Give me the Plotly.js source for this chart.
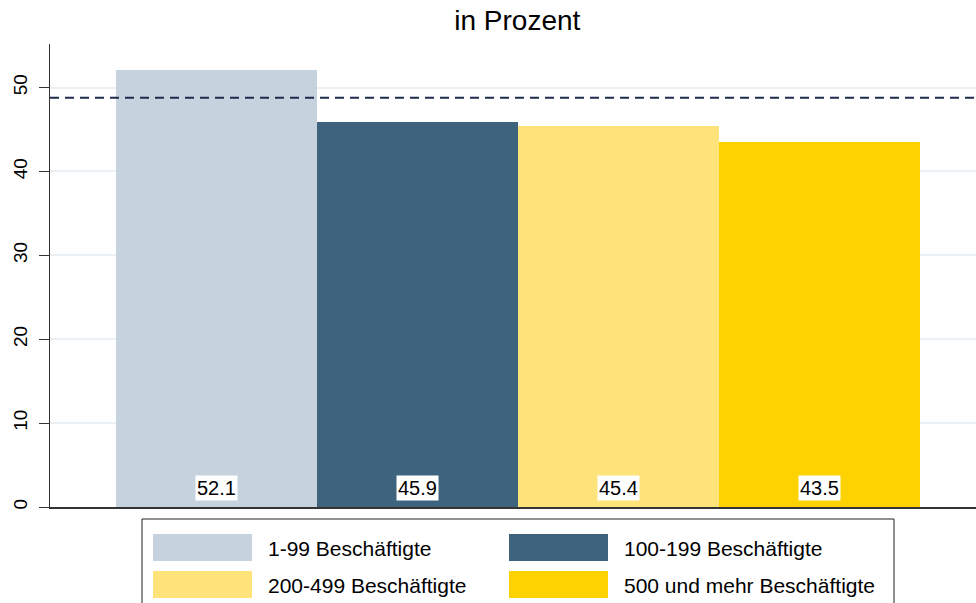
<!DOCTYPE html>
<html><head><meta charset="utf-8">
<script src="https://cdn.plot.ly/plotly-3.0.1.min.js"></script>
<style>html,body{margin:0;padding:0;background:#fff}#chart{width:976px;height:603px}</style>
</head><body><div id="chart"></div>
<script>
const categories = ["1-99 Beschäftigte", "100-199 Beschäftigte", "200-499 Beschäftigte", "500 und mehr Beschäftigte"];
const values = [52.1, 45.9, 45.4, 43.5];
const colors = ["#c6d3de", "#3e647d", "#fee27a", "#fed100"];
const referenceValue = 48.8;
const yTicks = [0, 10, 20, 30, 40, 50];

const L = 50, R = 976, T = 44, B = 507;
const px = x => (x - L) / (R - L);
const py = y => (B - y) / (B - T);
const FONT = 'Liberation Sans, Arial, sans-serif';

const traces = categories.map((c, i) => ({
  type: 'bar', x: [i], y: [values[i]], width: [1], name: c,
  marker: {color: colors[i], line: {width: 0}}, showlegend: false, hoverinfo: 'skip'
}));

const annotations = values.map((v, i) => ({
  x: i, y: 2.25, xref: 'x', yref: 'y', text: v.toFixed(1), showarrow: false,
  bgcolor: '#ffffff', borderpad: 1, font: {size: 20, color: '#000', family: FONT}
}));

const shapes = [
  {type: 'line', xref: 'paper', yref: 'y', x0: 0, x1: 1, y0: referenceValue, y1: referenceValue,
   line: {color: '#1f2c4d', width: 2, dash: '9px,6px'}},
  {type: 'rect', xref: 'paper', yref: 'paper', x0: px(142), x1: px(894), y0: py(519), y1: py(640),
   line: {color: '#222', width: 1}, fillcolor: 'rgba(0,0,0,0)'}
];
const legPos = [[153, 534], [509, 534], [153, 571], [509, 571]];
categories.forEach((c, i) => {
  const [lx, ly] = legPos[i];
  shapes.push({type: 'rect', xref: 'paper', yref: 'paper', x0: px(lx), x1: px(lx + 99), y0: py(ly), y1: py(ly + 27),
    line: {width: 0}, fillcolor: colors[i]});
  annotations.push({xref: 'paper', yref: 'paper', x: px(lx + 113), y: py(ly + 14), xanchor: 'left', yanchor: 'middle',
    text: c, showarrow: false, font: {size: 21, color: '#000', family: FONT}});
});

const layout = {
  width: 976, height: 603,
  margin: {l: L, r: 976 - R, t: T, b: 603 - B, pad: 0},
  paper_bgcolor: '#fff', plot_bgcolor: '#fff',
  font: {family: FONT, color: '#000'},
  title: {text: 'in Prozent', x: 0.53, xanchor: 'center', y: 0.982, yanchor: 'top', font: {size: 28, color: '#000'}},
  bargap: 0,
  xaxis: {range: [-0.828, 3.779], showticklabels: false, ticks: '', showgrid: false, zeroline: false,
          showline: true, linecolor: '#333', linewidth: 1.5},
  yaxis: {range: [0, 55.2], tickvals: yTicks, ticktext: yTicks.map(String), tickangle: -90,
          ticks: 'outside', ticklen: 10, tickcolor: '#333', tickfont: {size: 19, color: '#000'},
          ticklabelstandoff: 4,
          showgrid: true, gridcolor: '#eaf0f3', gridwidth: 2, zeroline: false,
          showline: true, linecolor: '#333', linewidth: 1.5},
  shapes: shapes, annotations: annotations
};
Plotly.newPlot('chart', traces, layout, {staticPlot: true, displayModeBar: false});
</script></body></html>
